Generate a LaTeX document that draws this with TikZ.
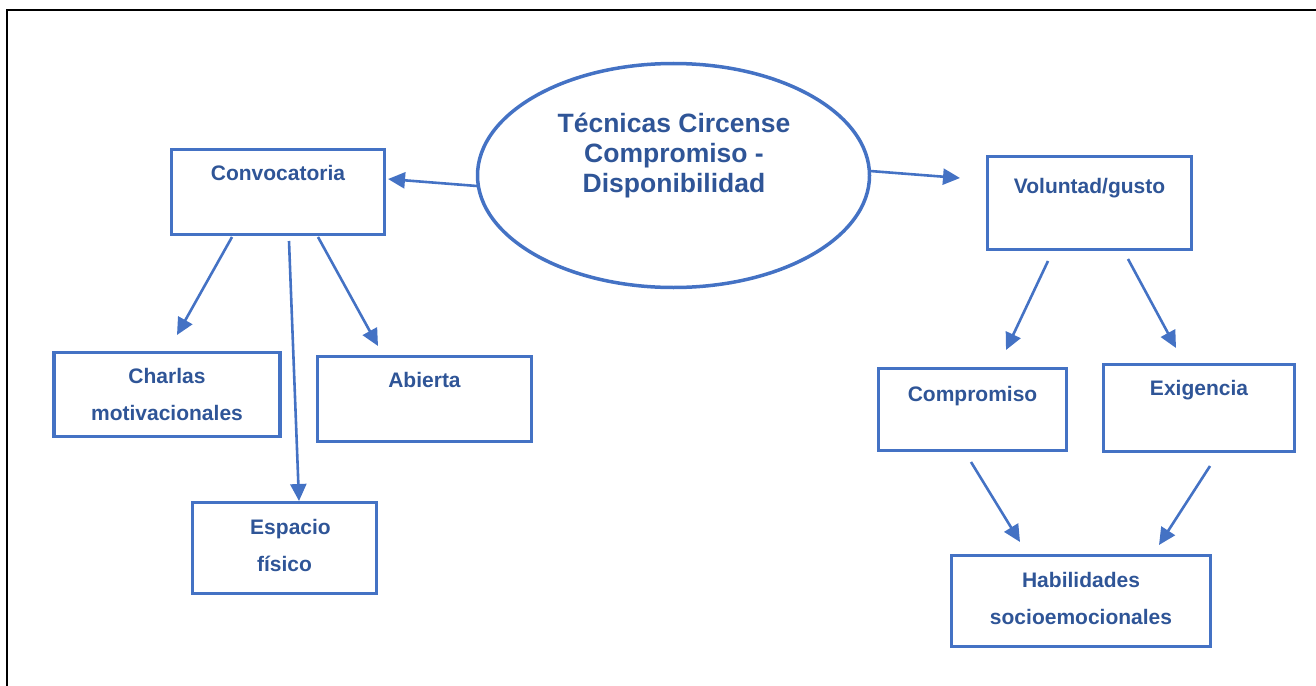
\documentclass[tikz,border=0pt]{standalone}
\usepackage{fontspec}
\setmainfont{Liberation Sans}
\usetikzlibrary{arrows.meta,shapes.geometric}
\definecolor{boxblue}{HTML}{4472C4}
\definecolor{txtblue}{HTML}{2F5597}
\tikzset{
  box/.style={draw=boxblue, line width=3.5pt, rectangle, inner sep=0pt},
  conn/.style={draw=boxblue, line width=2.6pt, -{Triangle[length=17pt,width=16pt]}},
  lbl/.style={text=txtblue, font=\bfseries\fontsize{21}{37}\selectfont, align=center, anchor=base, inner sep=0pt},
  ttl/.style={text=txtblue, font=\bfseries\fontsize{26.5}{30}\selectfont, align=center, anchor=base, inner sep=0pt}
}
\begin{document}
\begin{tikzpicture}[x=1pt,y=-1pt]
\useasboundingbox (0,0) rectangle (1316,685);
% outer frame
\draw[line width=2.2pt] (7,700) -- (7,10) -- (1330,10);

% central ellipse
\node[ellipse, draw=boxblue, line width=3.5pt, minimum width=392pt, minimum height=224pt, inner sep=0pt] (ell) at (673.5,175.5) {};
\node[ttl] (ellt) at (674,192) {Técnicas Circense\\Compromiso -\\Disponibilidad};

% boxes
\node[box, minimum width=213pt, minimum height=85pt] (conv) at (278,192) {};
\node[lbl] (convt) at (278,180) {Convocatoria};

\node[box, minimum width=226pt, minimum height=84pt] (charl) at (167,394.5) {};
\node[lbl] (charlt) at (167,420.5) {Charlas\\motivacionales};

\node[box, minimum width=214pt, minimum height=85pt] (abier) at (424.5,399) {};
\node[lbl] (abiert) at (424.5,387.5) {Abierta};

\node[box, minimum width=184pt, minimum height=91pt] (espac) at (284.5,548) {};
\node[lbl] (espact) at (284.5,571) {\hspace*{12pt}Espacio\\físico};

\node[box, minimum width=204pt, minimum height=93pt] (volun) at (1089.5,203) {};
\node[lbl] (volunt) at (1089.5,193.5) {Voluntad/gusto};

\node[box, minimum width=188pt, minimum height=82pt] (compr) at (972.5,409.5) {};
\node[lbl] (comprt) at (972.5,401) {Compromiso};

\node[box, minimum width=191pt, minimum height=87pt] (exig) at (1199,408) {};
\node[lbl] (exigt) at (1199,395) {Exigencia};

\node[box, minimum width=259pt, minimum height=91pt] (habil) at (1081,601) {};
\node[lbl] (habilt) at (1081,624) {Habilidades\\socioemocionales};

% connector end points
\coordinate (a1s) at (477,186);  \coordinate (a1e) at (388,179);
\coordinate (a2s) at (870,171);  \coordinate (a2e) at (960,178);
\coordinate (a3s) at (232,237);  \coordinate (a3e) at (177,335);
\coordinate (a4s) at (289,241);  \coordinate (a4e) at (299,501);
\coordinate (a5s) at (318,237);  \coordinate (a5e) at (378,346);
\coordinate (a6s) at (1048,261); \coordinate (a6e) at (1006,350);
\coordinate (a7s) at (1128,259); \coordinate (a7e) at (1176,348);
\coordinate (a8s) at (971,462);  \coordinate (a8e) at (1020,542);
\coordinate (a9s) at (1210,466); \coordinate (a9e) at (1159,545);

\draw[conn] (a1s) -- (a1e);
\draw[conn] (a2s) -- (a2e);
\draw[conn] (a3s) -- (a3e);
\draw[conn] (a4s) -- (a4e);
\draw[conn] (a5s) -- (a5e);
\draw[conn] (a6s) -- (a6e);
\draw[conn] (a7s) -- (a7e);
\draw[conn] (a8s) -- (a8e);
\draw[conn] (a9s) -- (a9e);
\end{tikzpicture}
\end{document}
